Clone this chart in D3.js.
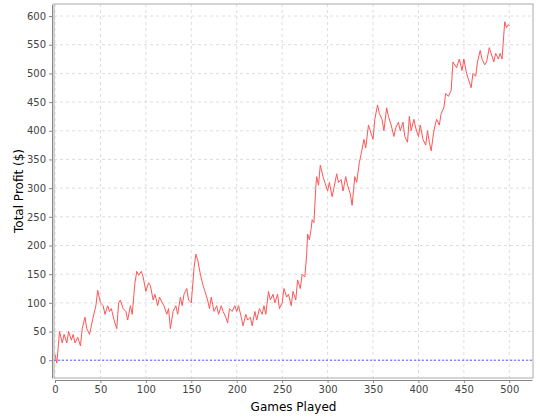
<!DOCTYPE html>
<html><head><meta charset="utf-8">
<script src="https://cdn.jsdelivr.net/npm/d3@7"></script>
<style>body{margin:0;background:#fff}text{font-family:"DejaVu Sans",sans-serif}</style>
</head><body><svg id="c" width="540" height="420"></svg>
<script>
// games played / total profit
const games = [0,2,5,8,10,13,15,18,20,22,25,28,30,33,35,38,40,42,45,47,50,53,55,58,60,62,65,68,70,72,75,78,80,83,85,88,90,92,95,97,100,103,105,108,110,113,115,118,120,123,125,127,130,133,135,138,140,142,145,147,150,153,155,157,160,163,165,168,170,172,175,178,180,183,185,188,190,192,195,198,200,202,205,207,210,212,215,217,220,222,225,228,230,232,235,237,240,242,245,247,250,252,255,257,260,262,265,267,270,272,275,277,278,280,282,283,285,287,288,290,292,295,297,300,302,305,307,310,312,315,317,320,322,325,327,330,332,335,337,340,342,345,347,350,352,355,357,360,362,365,367,370,373,375,378,380,383,385,388,390,392,395,397,400,402,405,408,410,412,414,417,420,423,425,428,430,433,436,438,442,445,448,450,453,455,458,460,463,465,468,470,473,475,478,480,483,485,488,490,492,495,497,499,500];
const profit = [10,-5,50,30,45,30,50,35,45,30,40,25,55,75,55,45,60,75,95,122,100,95,80,95,85,90,70,55,100,105,90,85,70,95,80,135,155,148,155,145,120,135,130,105,115,95,110,100,95,80,90,55,85,95,80,110,95,115,125,105,100,160,185,175,150,130,120,105,90,110,85,95,80,95,85,75,65,90,85,95,85,95,75,60,80,70,75,60,85,70,90,80,95,80,120,105,115,100,115,90,100,125,110,115,95,120,105,140,125,150,145,185,220,210,230,245,240,300,320,305,340,320,310,295,310,285,300,325,310,315,295,320,305,290,270,320,310,345,360,385,370,410,400,385,420,445,430,420,400,440,425,410,390,405,415,400,415,390,380,425,400,420,405,390,410,385,375,400,380,365,400,420,410,430,440,465,460,470,520,510,525,505,525,500,490,475,500,495,520,540,525,515,520,545,535,520,535,525,535,525,590,580,585,583];
const xTicks = d3.range(0, 501, 50);
const yTicks = d3.range(0, 601, 50);

const svg = d3.select("#c");
const m = {l:54, t:4, r:533, b:378};
const x = d3.scaleLinear().domain([0, 525]).range([55, 532]);
const y = d3.scaleLinear().domain([-31, 621]).range([m.b, m.t]);

const g = svg.append("g");
g.selectAll(".gx").data(xTicks).join("line")
  .attr("x1", d => x(d)).attr("x2", d => x(d)).attr("y1", m.t).attr("y2", m.b)
  .attr("stroke", "#ddd").attr("stroke-dasharray", "3,3");
g.selectAll(".gy").data(yTicks).join("line")
  .attr("y1", d => y(d)).attr("y2", d => y(d)).attr("x1", m.l).attr("x2", m.r)
  .attr("stroke", "#ddd").attr("stroke-dasharray", "3,3");
svg.append("rect").attr("x", m.l).attr("y", m.t).attr("width", m.r - m.l).attr("height", m.b - m.t)
  .attr("fill", "none").attr("stroke", "#aaa");
svg.append("line").attr("x1", m.l).attr("x2", m.r).attr("y1", y(0)).attr("y2", y(0))
  .attr("stroke", "#5555ff").attr("stroke-dasharray", "2,2");

const xa = svg.append("g").attr("transform", `translate(0,${m.b + 2})`)
  .call(d3.axisBottom(x).tickValues(xTicks).tickSize(3).tickSizeOuter(0));
const ya = svg.append("g").attr("transform", `translate(${m.l - 2},0)`)
  .call(d3.axisLeft(y).tickValues(yTicks).tickSize(3).tickSizeOuter(0));
[xa, ya].forEach(a => {
  a.select(".domain").attr("stroke", "#888");
  a.selectAll("line").attr("stroke", "#888");
  a.selectAll("text").attr("fill", "#444").style("font-size", "10px");
});

svg.append("path").datum(games.map((d, i) => [d, profit[i]]))
  .attr("fill", "none").attr("stroke", "#ff5555").attr("stroke-width", 1)
  .attr("d", d3.line().x(d => x(d[0])).y(d => y(d[1])));

svg.append("text").attr("x", (m.l + m.r) / 2).attr("y", 411).attr("text-anchor", "middle")
  .style("font-size", "12px").text("Games Played");
svg.append("text").attr("transform", `translate(23,${(m.t + m.b) / 2}) rotate(-90)`)
  .attr("text-anchor", "middle").style("font-size", "12px").text("Total Profit ($)");
</script></body></html>
